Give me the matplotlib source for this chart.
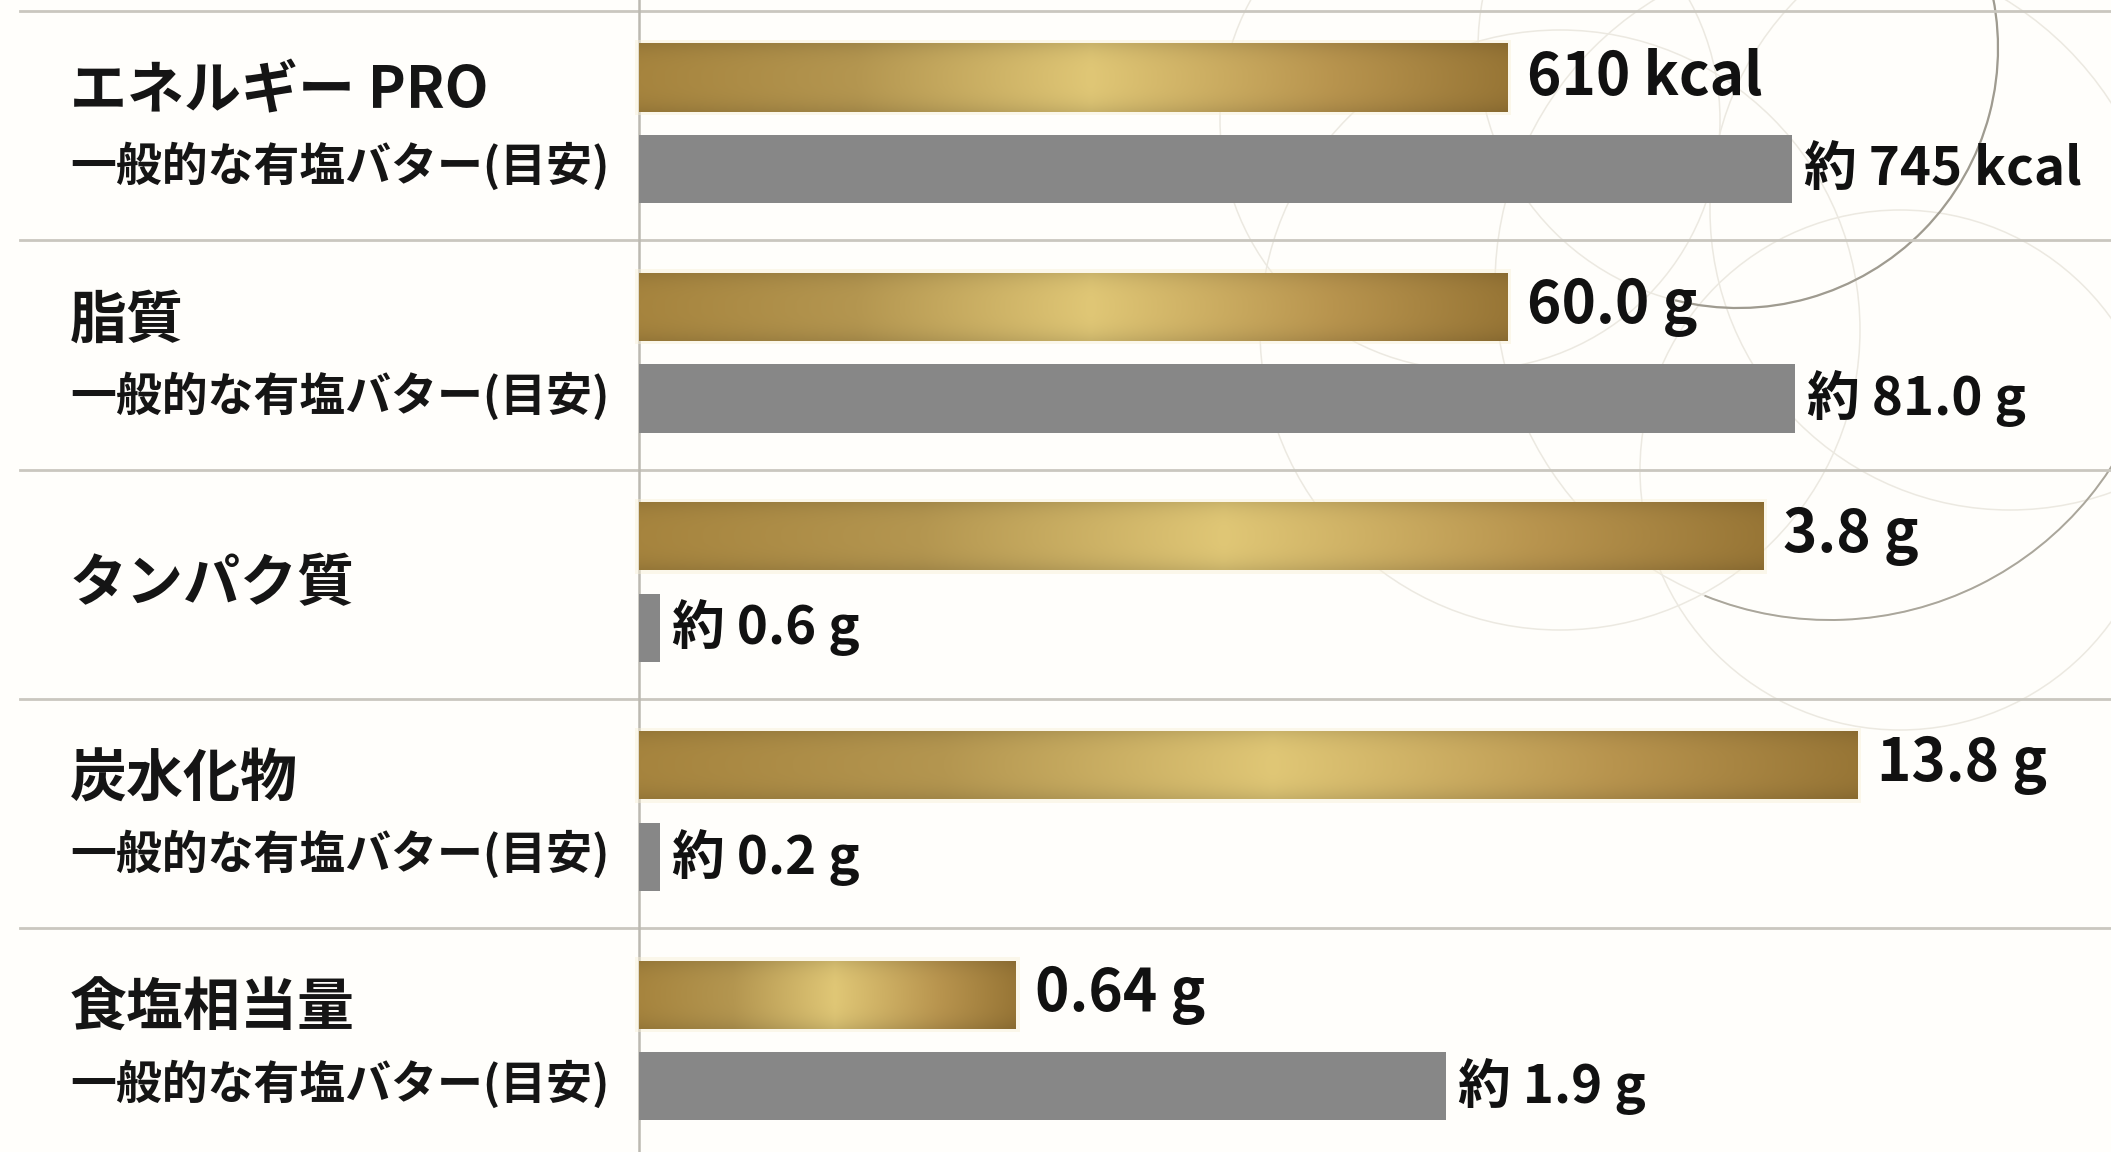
import numpy as np
import matplotlib
matplotlib.use("Agg")
import matplotlib.pyplot as plt
from matplotlib.patches import Circle, Arc

plt.rcParams["font.family"] = ["Noto Sans CJK JP", "DejaVu Sans"]

# rows, top to bottom
categories = ["エネルギー PRO", "脂質", "タンパク質", "炭水化物", "食塩相当量"]
sub_labels = ["一般的な有塩バター(目安)", "一般的な有塩バター(目安)", "",
              "一般的な有塩バター(目安)", "一般的な有塩バター(目安)"]
pro_labels = ["610 kcal", "60.0 g", "3.8 g", "13.8 g", "0.64 g"]
butter_labels = ["約 745 kcal", "約 81.0 g", "約 0.6 g", "約 0.2 g", "約 1.9 g"]

# bar lengths as drawn in the picture (0-100 across the bar area, not to scale of the values)
pro_len = [59.0, 59.0, 76.4, 82.8, 25.6]
butter_len = [78.3, 78.5, 1.4, 1.4, 54.8]

W, H = 2111, 1152
fig = plt.figure(figsize=(W / 100, H / 100), dpi=100)
fig.patch.set_facecolor("#fffefb")

# background ornament: faint overlapping circles in the top right
bg = fig.add_axes([0, 0, 1, 1])
bg.set_xlim(0, W)
bg.set_ylim(H, 0)
bg.axis("off")
faint = [((1738, 48), 260), ((1830, 285), 335), ((1560, 330), 300),
         ((2010, 210), 300), ((1900, 470), 260), ((1470, 120), 250)]
for c, r in faint:
    bg.add_patch(Circle(c, r, fill=False, ec="#ece9e1", lw=1.1))
# the two darker strokes
bg.add_patch(Arc((1738, 48), 520, 520, theta1=-15, theta2=104, ec="#9f9b90", lw=1.6))
bg.add_patch(Arc((1830, 285), 670, 670, theta1=15, theta2=112, ec="#aaa69b", lw=1.4))

ax = fig.add_axes([0, 0, 1, 1])
ax.patch.set_alpha(0)
x0, x1 = -43.41, 100
y0, y1 = 4.976, -0.048
ax.set_xlim(x0, x1)
ax.set_ylim(y0, y1)
ax.axis("off")

n = len(categories)
rows = np.arange(n)
gold_y = rows + 0.29
gray_y = rows + 0.69
bh = 0.297

# row separators and the axis line
for i in range(n + 1):
    ax.plot([-42.05, x1], [i, i], color="#cac7bf", lw=2.0, zorder=1)
ax.axvline(0, color="#bcb9b1", lw=1.8, zorder=1)

# gold gradient (dark - light centre - dark)
stops = [0.0, 0.25, 0.52, 0.8, 1.0]
cols = np.array([[166, 132, 62], [180, 150, 80], [224, 199, 118],
                 [184, 148, 78], [152, 118, 54]]) / 255.0
xs = np.linspace(0, 1, 300)
row_prof = np.stack([np.interp(xs, stops, cols[:, k]) for k in range(3)], axis=-1)
vshade = 1.0 - 0.10 * np.abs(np.linspace(-1, 1, 30)) ** 3
grad = np.clip(row_prof[None, :, :] * vshade[:, None, None], 0, 1)

# soft glow behind gold bars
ax.barh(gold_y, [l + 0.5 for l in pro_len], height=bh + 0.03, left=-0.25,
        color="#f8efd6", alpha=0.45, zorder=2, lw=0)
gold_bars = ax.barh(gold_y, pro_len, height=bh, color="none", lw=0, zorder=3)
for rect in gold_bars:
    bx, by = rect.get_x(), rect.get_y()
    im = ax.imshow(grad, extent=[bx, bx + rect.get_width(), by + bh, by],
                   aspect="auto", zorder=3, interpolation="bilinear")
    im.set_clip_path(rect)
ax.barh(gray_y, butter_len, height=bh, color="#878787", lw=0, zorder=3)
ax.set_xlim(x0, x1)
ax.set_ylim(y0, y1)

lab_x = -38.65
for i in range(n):
    if sub_labels[i]:
        ax.text(lab_x, gold_y[i] + 0.062, categories[i], fontsize=41, fontweight="bold",
                va="center", ha="left", color="#151515")
        ax.text(lab_x, gray_y[i] - 0.01, sub_labels[i], fontsize=33, fontweight="bold",
                va="center", ha="left", color="#151515")
    else:
        ax.text(lab_x, i + 0.5, categories[i], fontsize=41, fontweight="bold",
                va="center", ha="left", color="#151515")

    ax.annotate(pro_labels[i], (pro_len[i], gold_y[i]), xytext=(14, 0),
                textcoords="offset points", fontsize=42, fontweight="bold",
                va="center", ha="left", color="#111111", zorder=5)
    ax.annotate(butter_labels[i], (butter_len[i], gray_y[i]), xytext=(9, 0),
                textcoords="offset points", fontsize=38, fontweight="bold",
                va="center", ha="left", color="#111111", zorder=5)

fig.savefig("out.png", dpi=100, facecolor=fig.get_facecolor())
